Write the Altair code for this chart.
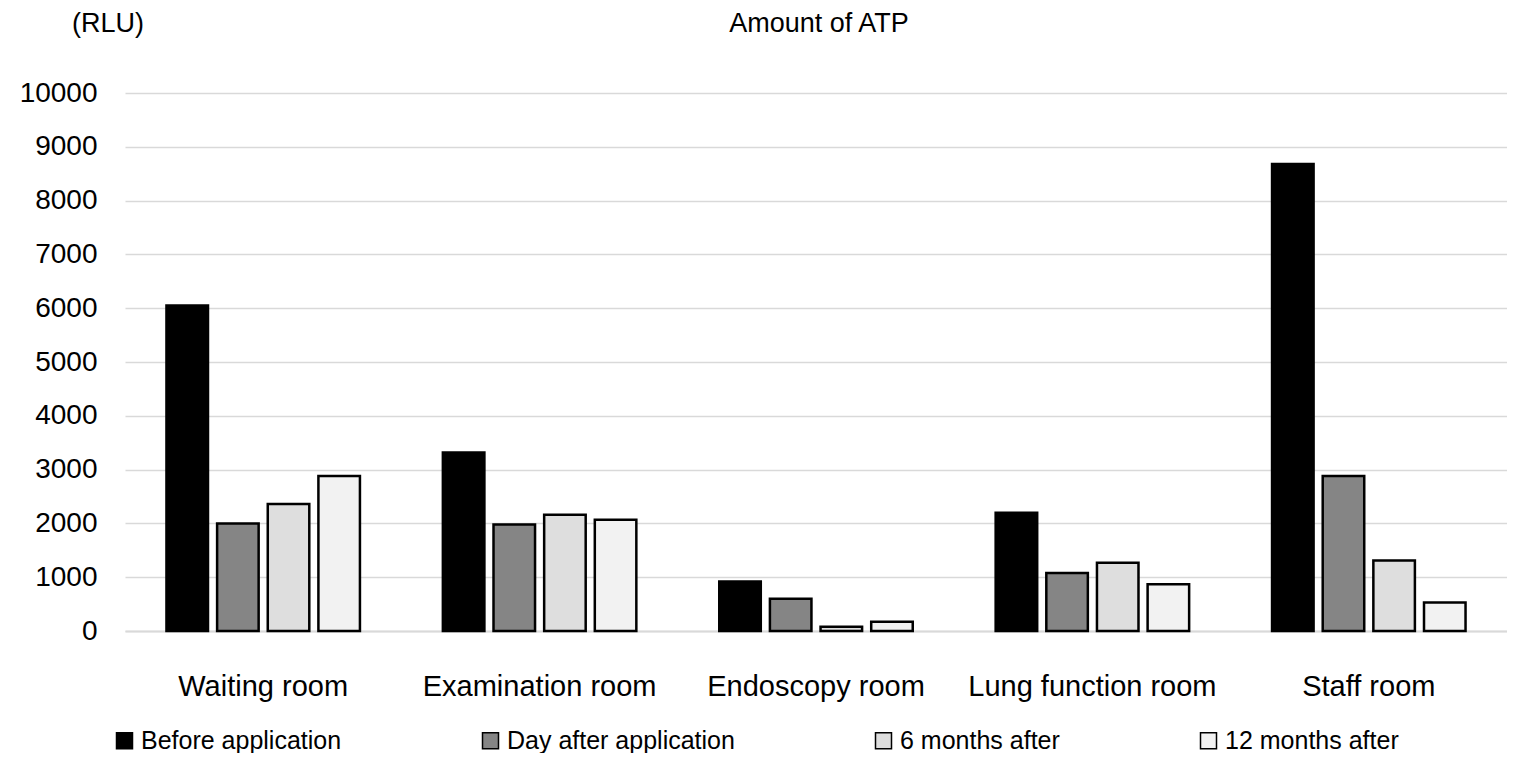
import altair as alt
import pandas as pd

rooms = ["Waiting room", "Examination room", "Endoscopy room", "Lung function room", "Staff room"]
periods = ["Before application", "Day after application", "6 months after", "12 months after"]
before = [6050, 3320, 920, 2200, 8680]
day_after = [2000, 1980, 600, 1080, 2880]
six_months = [2360, 2160, 80, 1270, 1310]
twelve_months = [2880, 2070, 170, 870, 530]
y_ticks = list(range(0, 10001, 1000))
colors = ["#000000", "#858585", "#dedede", "#f2f2f2"]

series = [before, day_after, six_months, twelve_months]
rows = []
for p, vals in zip(periods, series):
    for r, v in zip(rooms, vals):
        rows.append({"room": r, "period": p, "value": v})
df = pd.DataFrame(rows)

FONT = "Liberation Sans"

bars = alt.Chart(df).mark_bar(stroke="#000000", strokeWidth=2.5).encode(
    x=alt.X("room:N", sort=rooms,
            scale=alt.Scale(paddingInner=0.3, paddingOuter=0.15),
            axis=alt.Axis(title=None, labelAngle=0, ticks=False, labelPadding=41,
                          labelFontSize=29, labelFont=FONT, labelColor="#000000",
                          labelLimit=0, domainColor="#d9d9d9", domainWidth=2, grid=False)),
    xOffset=alt.XOffset("period:N", sort=periods,
                        scale=alt.Scale(paddingInner=0.18, paddingOuter=0)),
    y=alt.Y("value:Q", scale=alt.Scale(domain=[0, 10000], nice=False),
            axis=alt.Axis(title=None, values=y_ticks, format="d", ticks=False, domain=False,
                          labelPadding=28, labelFontSize=28, labelFont=FONT,
                          labelColor="#000000", gridColor="#d9d9d9", gridWidth=1.5)),
    fill=alt.Fill("period:N", sort=periods,
                  scale=alt.Scale(domain=periods, range=colors),
                  legend=alt.Legend(title=None, orient="none", legendX=-13, legendY=635,
                                    direction="horizontal", columns=4, columnPadding=136,
                                    symbolType="square", symbolSize=256,
                                    symbolStrokeColor="#000000", symbolStrokeWidth=1.5,
                                    labelFontSize=25, labelFont=FONT, labelColor="#000000",
                                    labelOffset=4, padding=0, labelLimit=0)),
)

rlu = alt.Chart(pd.DataFrame({"t": ["(RLU)"]})).mark_text(
    fontSize=27, font=FONT, color="#000000", align="center", baseline="alphabetic"
).encode(text="t:N", x=alt.value(-17), y=alt.value(-61))

title = alt.Chart(pd.DataFrame({"t": ["Amount of ATP"]})).mark_text(
    fontSize=27, font=FONT, color="#000000", align="center", baseline="alphabetic"
).encode(text="t:N", x=alt.value(694), y=alt.value(-61))

chart = alt.layer(bars, rlu, title).properties(
    width=1382, height=538,
    autosize=alt.AutoSizeParams(type="none"),
    padding={"left": 117, "top": 85, "right": 0, "bottom": 122},
).configure_view(stroke=None)

chart.save("out.html", embed_options={"renderer": "svg", "actions": False})
